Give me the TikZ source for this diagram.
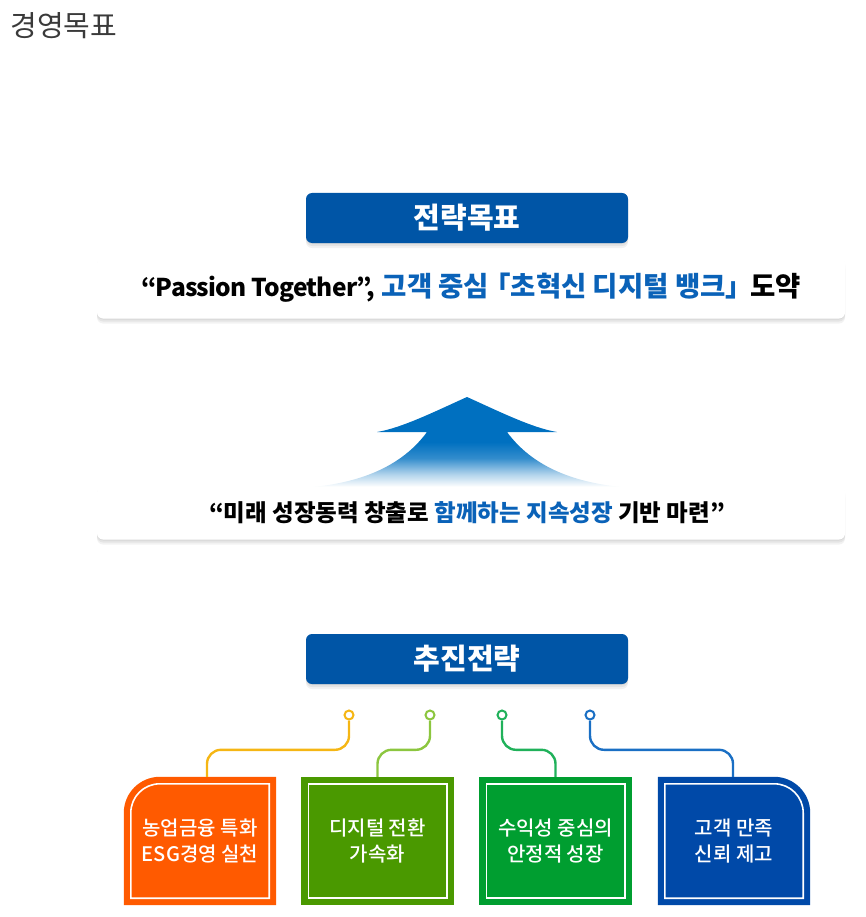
\documentclass[tikz,border=0pt]{standalone}
\usepackage{fontspec}
\setmainfont{Noto Sans CJK KR}
\newfontfamily\medfont{Noto Sans CJK KR Medium}
\usetikzlibrary{shadows,backgrounds}
\definecolor{headblue}{HTML}{0055A6}
\definecolor{hlblue}{HTML}{0A62B8}
\definecolor{arrowblue}{HTML}{0070C0}
\definecolor{titlegray}{HTML}{3A3A3A}
\definecolor{orangebox}{HTML}{FF5A00}
\definecolor{leafbox}{HTML}{4A9900}
\definecolor{greenbox}{HTML}{009E30}
\definecolor{navybox}{HTML}{0049A8}
\definecolor{lineyellow}{HTML}{F5B614}
\definecolor{lineleaf}{HTML}{8CC63F}
\definecolor{linegreen}{HTML}{20B15A}
\definecolor{lineblue}{HTML}{1A6FC4}
\pgfdeclareverticalshading{arrowfade}{100bp}{color(0bp)=(white); color(25bp)=(white); color(32bp)=(arrowblue!30); color(41bp)=(arrowblue!80); color(50bp)=(arrowblue); color(100bp)=(arrowblue)}
\tikzset{
  softshadow/.style={drop shadow={shadow xshift=0pt, shadow yshift=-5pt, opacity=.05, fill=black},
    drop shadow={shadow xshift=0pt, shadow yshift=-3pt, opacity=.06, fill=black},
    drop shadow={shadow xshift=0pt, shadow yshift=-1pt, opacity=.06, fill=black}},
  headbox/.style={fill=headblue, rounded corners=6pt, minimum width=322pt, minimum height=50pt,
    inner sep=0pt, text=white, font=\fontsize{29}{32}\selectfont\bfseries, softshadow},
  whitebox/.style={fill=white, rounded corners=6pt, minimum width=748pt, inner sep=0pt, softshadow},
  stratbox/.style={minimum width=152pt, minimum height=128pt, inner sep=0pt, align=center,
    text=white, font=\fontsize{20}{26}\selectfont\medfont},
  pin/.style={circle, draw=#1, fill=white, line width=2pt, minimum size=9pt, inner sep=0pt},
  conn/.style={draw=#1, line width=2.4pt, rounded corners=14pt},
  frameline/.style={draw=white, line width=1.6pt}
}
\begin{document}
\begin{tikzpicture}[x=1pt,y=-1pt]
\useasboundingbox (0,0) rectangle (866,917);
\node[anchor=west, text=titlegray, font=\fontsize{29}{32}\selectfont] (title) at (7,26) {경영목표};
% goal
\node[headbox] (goalhead) at (467,218) {전략목표};
\node[whitebox, minimum height=61pt, font=\fontsize{27.5}{30}\selectfont\bfseries] (goal) at (471,288)
  {{\fontsize{24.5}{30}\selectfont\addfontfeature{LetterSpace=-3}“Passion Together”,} \textcolor{hlblue}{고객 중심\kern-6pt「초혁신 디지털 뱅크」}\kern-3pt 도약};
% arrow
\shade[shading=arrowfade] (467,397) .. controls (438,410) and (402,428) .. (377,432) -- (427,432)
  .. controls (402,466) and (362,482) .. (313,487) -- (621,487)
  .. controls (572,482) and (532,466) .. (507,432) -- (557,432)
  .. controls (532,428) and (496,410) .. (467,397) -- cycle;
\node[whitebox, minimum height=53pt, font=\fontsize{23.5}{28}\selectfont\bfseries] (vision) at (471,513)
  {“미래 성장동력 창출로 \textcolor{hlblue}{함께하는 지속성장} 기반 마련”\hspace*{8pt}};
% strategies
\node[headbox] (strathead) at (467,659) {추진전략};
\node[stratbox] (s1) at (200,841) {농업금융 특화\\ESG경영 실천};
\node[stratbox] (s2) at (377.5,841) {디지털 전환\\가속화};
\node[stratbox] (s3) at (555.5,841) {수익성 중심의\\안정적 성장};
\node[stratbox] (s4) at (734,841) {고객 만족\\신뢰 제고};
\begin{scope}[on background layer]
\fill[orangebox] (s1.south west) -- ([shift={(0,36)}]s1.north west) arc[start angle=180, end angle=90, radius=36pt]
  -- (s1.north east) -- (s1.south east) -- cycle;
\fill[leafbox] (s2.south west) rectangle (s2.north east);
\fill[greenbox] (s3.south west) rectangle (s3.north east);
\fill[navybox] (s4.south west) -- (s4.north west) -- ([shift={(-36,0)}]s4.north east)
  arc[start angle=90, end angle=0, radius=36pt] -- (s4.south east) -- cycle;
\end{scope}
\draw[frameline] ([shift={(7,-7)}]s1.south west) -- ([shift={(7,36)}]s1.north west)
  arc[start angle=180, end angle=90, radius=29pt] -- ([shift={(-7,7)}]s1.north east)
  -- ([shift={(-7,-7)}]s1.south east) -- cycle;
\draw[frameline] ([shift={(7,-7)}]s2.south west) rectangle ([shift={(-7,7)}]s2.north east);
\draw[frameline] ([shift={(7,-7)}]s3.south west) rectangle ([shift={(-7,7)}]s3.north east);
\draw[frameline] ([shift={(7,-7)}]s4.south west) -- ([shift={(7,7)}]s4.north west)
  -- ([shift={(-36,7)}]s4.north east) arc[start angle=90, end angle=0, radius=29pt]
  -- ([shift={(-7,-7)}]s4.south east) -- cycle;
% pins and connectors
\node[pin=lineyellow] (p1) at (349,715) {};
\node[pin=lineleaf] (p2) at (430,715) {};
\node[pin=linegreen] (p3) at (502,715) {};
\node[pin=lineblue] (p4) at (590,715) {};
\draw[conn=lineyellow] ([xshift=7pt]s1.north) -- ++(0,-27) -| (p1);
\draw[conn=lineleaf] (s2.north) -- ++(0,-27) -| (p2);
\draw[conn=linegreen] (s3.north) -- ++(0,-27) -| (p3);
\draw[conn=lineblue] ([xshift=-1pt]s4.north) -- ++(0,-27) -| (p4);
\end{tikzpicture}
\end{document}
